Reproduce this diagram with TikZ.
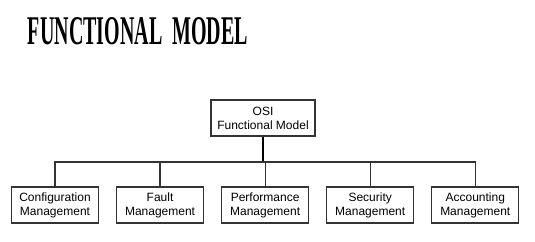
\documentclass[tikz,border=0pt]{standalone}
\usepackage{fontspec}
\setmainfont{Liberation Sans}
\newfontfamily\headfont{Liberation Serif}
\usetikzlibrary{positioning}
\definecolor{cline}{HTML}{333333}
\tikzset{
  every picture/.style={font=\fontsize{9}{10.5}\selectfont, line width=0.8pt},
  unit/.style={draw=cline, fill=white, align=center, inner sep=0pt,
    minimum width=65.25pt, minimum height=27pt},
  link/.style={draw=cline, line width=0.9pt},
  heading/.style={inner sep=0pt, anchor=center},
}
\begin{document}
\begin{tikzpicture}[x=0.75pt, y=-0.75pt, node distance=12.75pt]
  \useasboundingbox (0,0) rectangle (535,242);
  % title
  \node[heading] (title) at (138,31.5)
    {\resizebox{165pt}{20.25pt}{\headfont\bfseries FUNCTIONAL\ \ MODEL}};
  % tree
  \node[unit, minimum width=78pt] (osi) at (263,118) {OSI\\Functional Model};
  \node[unit] (conf) at (55,205) {Configuration\\Management};
  \node[unit, right=of conf] (fault) {Fault\\Management};
  \node[unit, right=of fault] (perf) {Performance\\Management};
  \node[unit, right=of perf] (sec) {Security\\Management};
  \node[unit, right=of sec] (acct) {Accounting\\Management};
  \coordinate (hub) at (263,162);
  \draw[link, line width=1.2pt, draw=black] (osi.south) -- (hub);
  \foreach \b in {conf,fault,perf,sec,acct} \draw[link] (hub) -| (\b.north);
\end{tikzpicture}
\end{document}
